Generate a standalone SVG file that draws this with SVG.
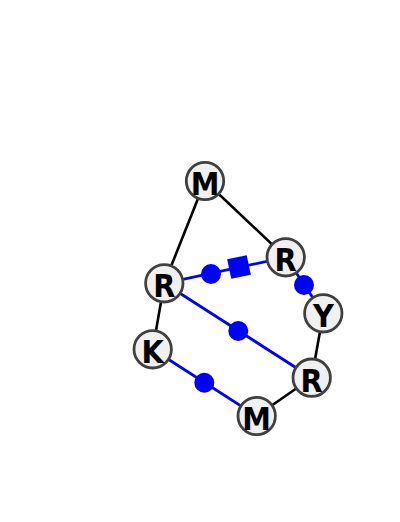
<svg xmlns="http://www.w3.org/2000/svg" width="400" height="522" viewBox="0 0 400 522">
<style>
.e{stroke:#000;stroke-width:2.6;fill:none}
.b{stroke:#0000ff;stroke-width:2.8;fill:none}
.d{fill:#0000ff}
.n circle{fill:#f0f0f0;stroke:#404040;stroke-width:2.8}
.n text{font-family:"DejaVu Sans Condensed","DejaVu Sans",sans-serif;font-stretch:condensed;font-weight:bold;font-size:32px;text-anchor:middle;fill:#000}
</style>
<rect width="400" height="522" fill="#fff"/>
<g id="connectors">
<line class="e" x1="205" y1="181" x2="164.3" y2="283.3"/>
<line class="e" x1="205" y1="181" x2="285.7" y2="257.3"/>
<line class="e" x1="164.3" y1="283.3" x2="152.7" y2="349.3"/>
<line class="e" x1="323.3" y1="313.3" x2="311.7" y2="377.7"/>
<line class="e" x1="311.7" y1="377.7" x2="256.7" y2="416"/>
<line class="b" x1="164.3" y1="283.3" x2="285.7" y2="257.3"/>
<line class="b" x1="285.7" y1="257.3" x2="323.3" y2="313.3"/>
<line class="b" x1="164.3" y1="283.3" x2="311.7" y2="377.7"/>
<line class="b" x1="152.7" y1="349.3" x2="256.7" y2="416"/>
<circle class="d" cx="211" cy="274" r="10"/>
<rect class="d" x="-10" y="-10" width="20" height="20" transform="translate(239,267) rotate(-12)"/>
<circle class="d" cx="304" cy="285" r="10"/>
<circle class="d" cx="238.3" cy="331" r="10"/>
<circle class="d" cx="204.3" cy="382.7" r="10"/>
</g>
<g id="n1" class="n"><circle cx="205" cy="181" r="18.7"/><text x="205" y="195">M</text></g>
<g id="n2" class="n"><circle cx="285.7" cy="257.3" r="18.7"/><text x="285.7" y="271.3">R</text></g>
<g id="n3" class="n"><circle cx="164.3" cy="283.3" r="18.7"/><text x="164.3" y="297.3">R</text></g>
<g id="n4" class="n"><circle cx="323.3" cy="313.3" r="18.7"/><text x="323.3" y="327.3">Y</text></g>
<g id="n5" class="n"><circle cx="152.7" cy="349.3" r="18.7"/><text x="152.7" y="363.3">K</text></g>
<g id="n6" class="n"><circle cx="311.7" cy="377.7" r="18.7"/><text x="311.7" y="391.7">R</text></g>
<g id="n7" class="n"><circle cx="256.7" cy="416" r="18.7"/><text x="256.7" y="430">M</text></g>
</svg>
